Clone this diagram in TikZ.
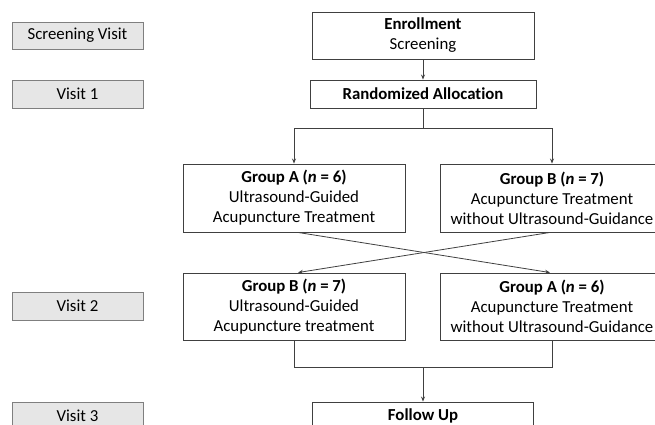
\documentclass[tikz,border=0pt]{standalone}
\usepackage{fontspec}
\setmainfont[Ligatures=NoCommon]{Carlito}
\usetikzlibrary{arrows.meta}
\definecolor{vfill}{HTML}{E6E6E6}
\definecolor{vline}{HTML}{7F7F7F}
\definecolor{bline}{HTML}{404040}
\begin{document}
\begin{tikzpicture}[x=1pt,y=-1pt,
  every node/.style={font=\fontsize{16.8}{20}\selectfont, inner sep=0pt, align=center},
  visitbox/.style={draw=vline, fill=vfill, line width=0.9pt, minimum width=131, minimum height=27},
  flowbox/.style={draw=bline, line width=0.9pt},
  conn/.style={draw=bline, line width=0.8pt},
  arr/.style={conn, -{Stealth[length=5pt,width=4pt]}}]
\useasboundingbox (0,0) rectangle (655,425);
\clip (0,0) rectangle (655,425);
% visit labels
\node[visitbox] (sv) at (77.5,35.5) {Screening Visit};
\node[visitbox, minimum height=28] (v1) at (77.5,94) {Visit 1};
\node[visitbox, minimum height=28] (v2) at (77.5,306) {Visit 2};
\node[visitbox, minimum height=28] (v3) at (77.5,416) {Visit 3};
% flow boxes
\node[flowbox, minimum width=222, minimum height=47] (enr) at (423,35.5) {\textbf{Enrollment}\\Screening};
\node[flowbox, minimum width=226, minimum height=28] (rand) at (423,94) {\textbf{Randomized Allocation}};
\node[flowbox, minimum width=222, minimum height=68] (ga1) at (294,198) {\textbf{Group A (\textit{n} = 6)}\\Ultrasound-Guided\\Acupuncture Treatment};
\node[flowbox, minimum width=224, minimum height=68] (gb1) at (552,198) {\textbf{Group B (\textit{n} = 7)}\\Acupuncture Treatment\\without Ultrasound-Guidance};
\node[flowbox, minimum width=222, minimum height=67] (gb2) at (294,306.5) {\textbf{Group B (\textit{n} = 7)}\\Ultrasound-Guided\\Acupuncture treatment};
\node[flowbox, minimum width=224, minimum height=67] (ga2) at (552,306.5) {\textbf{Group A (\textit{n} = 6)}\\Acupuncture Treatment\\without Ultrasound-Guidance};
\node[flowbox, minimum width=221, minimum height=28] (fu) at (423,416) {\textbf{Follow Up}};
% connectors
\coordinate (jt) at (423,128);
\coordinate (jb) at (423,367);
\draw[arr] (enr.south) -- (rand.north);
\draw[conn] (rand.south) -- (jt);
\draw[arr] (jt) -| (ga1.north);
\draw[arr] (jt) -| (gb1.north);
\draw[arr] ([xshift=4pt]ga1.south) -- ([xshift=-2pt]ga2.north);
\draw[arr] ([xshift=-2pt]gb1.south) -- ([xshift=4pt]gb2.north);
\draw[conn] (gb2.south) |- (jb);
\draw[conn] (ga2.south) |- (jb);
\draw[arr] (jb) -- (fu.north);
\end{tikzpicture}
\end{document}
